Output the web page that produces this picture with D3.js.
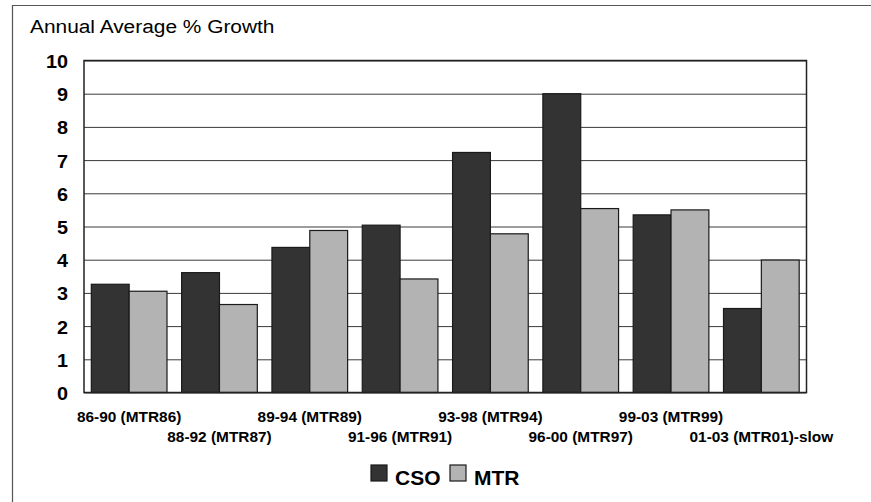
<!DOCTYPE html>
<html>
<head>
<meta charset="utf-8">
<script src="https://cdn.jsdelivr.net/npm/d3@7/dist/d3.min.js"></script>
<style>
  html, body { margin: 0; padding: 0; background: #fff; overflow: hidden; }
  svg { display: block; }
  text { font-family: Arial, "Liberation Sans", Helvetica, sans-serif; fill: #000; }
</style>
</head>
<body>
<svg id="chart" width="871" height="502"></svg>
<script>
// Period labels (CSO forecast window and matching MTR vintage)
const categories = [
  "86-90 (MTR86)", "88-92 (MTR87)", "89-94 (MTR89)", "91-96 (MTR91)",
  "93-98 (MTR94)", "96-00 (MTR97)", "99-03 (MTR99)", "01-03 (MTR01)-slow"
];
const seriesNames = ["CSO", "MTR"];
const csoValues = [3.26, 3.61, 4.37, 5.04, 7.23, 9.0, 5.35, 2.53];
const mtrValues = [3.05, 2.65, 4.88, 3.42, 4.78, 5.54, 5.50, 3.99];
const yTicks = [0, 1, 2, 3, 4, 5, 6, 7, 8, 9, 10];
const colors = { CSO: "#333333", MTR: "#b3b3b3" };

const rows = categories.map((c, i) => ({ cat: c, CSO: csoValues[i], MTR: mtrValues[i] }));

const svg = d3.select("#chart");
const W = 871, H = 502;
const plot = { left: 84, right: 806.5, top: 60.5, bottom: 392.5 };
const sx = 1.1; // horizontal stretch of the lettering

// outer frame (open to the right and bottom of the page)
svg.append("path")
  .attr("d", `M12.5,${H + 5}V5.5H${W + 5}`)
  .attr("fill", "none").attr("stroke", "#555").attr("stroke-width", 1.2);

// title
svg.append("text")
  .attr("transform", `translate(30,33) scale(1.16,1)`)
  .attr("font-size", 18)
  .text("Annual Average % Growth");

const y = d3.scaleLinear().domain([0, 10]).range([plot.bottom, plot.top]);
const x0 = d3.scaleBand().domain(categories).range([plot.left, plot.right]);
const bw = x0.bandwidth();
const x1 = d3.scaleBand().domain(seriesNames).range([bw * 0.081, bw * 0.919]);

// gridlines
const grid = d3.axisLeft(y).tickValues(yTicks).tickSize(-(plot.right - plot.left)).tickFormat("");
const gGrid = svg.append("g").attr("transform", `translate(${plot.left},0)`).call(grid);
gGrid.select(".domain").remove();
gGrid.selectAll(".tick line").attr("stroke", "#3a3a3a").attr("stroke-width", 1);

// bars
const groups = svg.append("g").selectAll("g").data(rows).join("g")
  .attr("transform", d => `translate(${x0(d.cat)},0)`);
groups.selectAll("rect")
  .data(d => seriesNames.map(k => ({ key: k, value: d[k] })))
  .join("rect")
  .attr("x", d => x1(d.key))
  .attr("width", x1.bandwidth())
  .attr("y", d => y(d.value))
  .attr("height", d => y(0) - y(d.value))
  .attr("fill", d => colors[d.key])
  .attr("stroke", "#1a1a1a")
  .attr("stroke-width", 1.2);

// plot border
svg.append("rect")
  .attr("x", plot.left).attr("y", plot.top)
  .attr("width", plot.right - plot.left).attr("height", plot.bottom - plot.top)
  .attr("fill", "none").attr("stroke", "#222").attr("stroke-width", 1.5);

// y axis labels
const yAxis = d3.axisLeft(y).tickValues(yTicks).tickSize(0).tickPadding(0).tickFormat(d3.format("d"));
const gY = svg.append("g").attr("transform", `translate(${plot.left},0)`).call(yAxis);
gY.select(".domain").remove();
gY.selectAll(".tick text")
  .attr("x", null).attr("dy", null)
  .attr("transform", `translate(-16,7) scale(${sx},1)`)
  .attr("font-size", 18).attr("font-weight", "bold")
  .attr("font-family", "Arial, 'Liberation Sans', sans-serif")
  .attr("text-anchor", "end").attr("fill", "#000");

// x axis labels, staggered on two rows
const xAxis = d3.axisBottom(x0).tickSize(0).tickPadding(0);
const gX = svg.append("g").attr("transform", `translate(0,${plot.bottom})`).call(xAxis);
gX.select(".domain").remove();
gX.selectAll(".tick text")
  .attr("y", null).attr("dy", null)
  .attr("transform", (d, i) => `translate(0,${i % 2 === 0 ? 29 : 49}) scale(${sx},1)`)
  .attr("font-size", 14).attr("font-weight", "bold")
  .attr("font-family", "Arial, 'Liberation Sans', sans-serif")
  .attr("text-anchor", "middle").attr("fill", "#000");

// legend
const legend = svg.append("g").attr("transform", "translate(371,465)");
const legendX = d3.scaleOrdinal().domain(seriesNames).range([0, 79]);
const li = legend.selectAll("g").data(seriesNames).join("g")
  .attr("transform", d => `translate(${legendX(d)},0)`);
li.append("rect")
  .attr("width", 16).attr("height", 16)
  .attr("fill", d => colors[d]).attr("stroke", "#1a1a1a").attr("stroke-width", 1.2);
li.append("text")
  .attr("transform", `translate(24,20) scale(1.05,1)`)
  .attr("font-size", 20).attr("font-weight", "bold")
  .text(d => d);
</script>
</body>
</html>
